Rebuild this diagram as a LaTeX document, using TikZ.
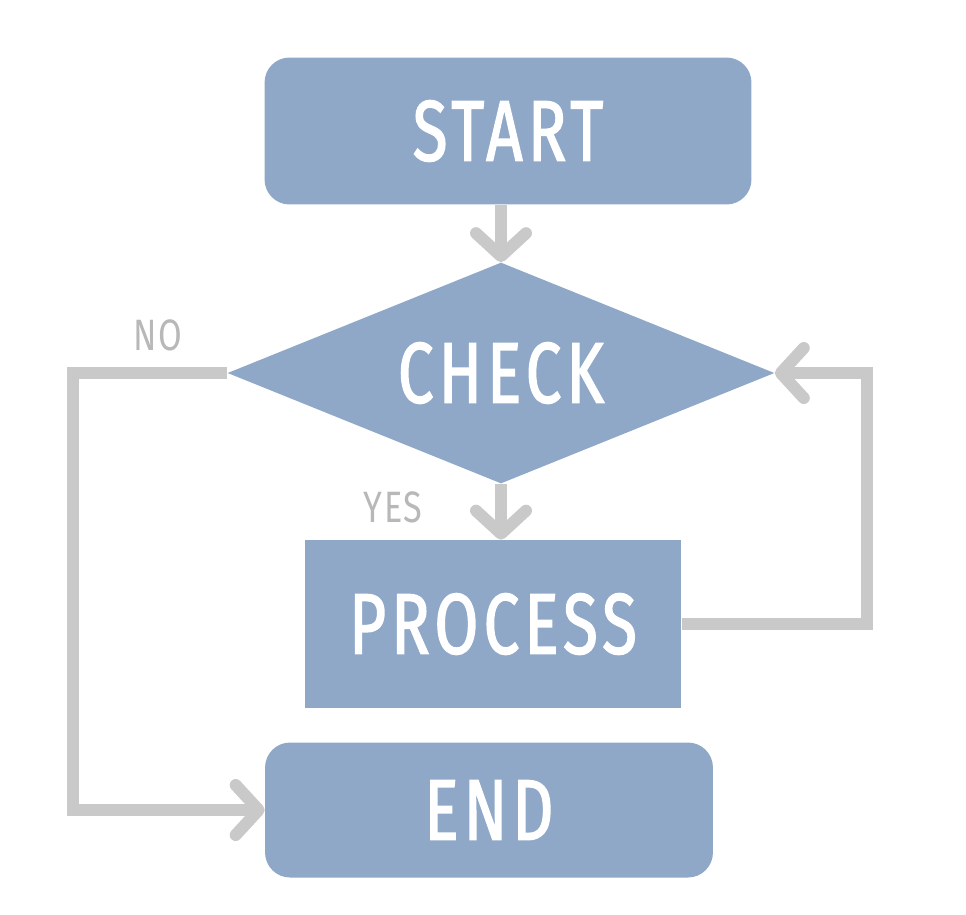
\documentclass[tikz,border=0pt]{standalone}
\usepackage{fontspec}
\usetikzlibrary{shapes.geometric,arrows.meta,positioning}
\newfontfamily\boxfont{Fira Sans}[FakeStretch=0.74, LetterSpace=6, FakeBold=1.6]
\newfontfamily\tagfont{Fira Sans}[FakeStretch=0.78, LetterSpace=4]
\definecolor{boxblue}{HTML}{8FA8C8}
\definecolor{flowgray}{HTML}{C9C9C9}
\definecolor{taggray}{HTML}{B8B8B8}

\begin{document}
\begin{tikzpicture}[x=0.02cm, y=-0.02cm,
		block/.style={fill=boxblue, text=white, inner sep=0pt,
			font=\boxfont\fontsize{49}{49}\selectfont},
		terminal/.style={block, rounded corners=0.5cm},
		decision/.style={block, diamond, aspect=2.5},
		flow/.style={draw=flowgray, line width=0.24cm,
			-{Straight Barb[length=0.46cm, width=1.0cm, round]}},
		tag/.style={text=taggray, font=\tagfont\fontsize{25}{25}\selectfont}]
		\useasboundingbox (0, 0) rectangle (966, 914);

		\draw (508, 131) 	node[terminal, minimum width=9.74cm, minimum height=2.94cm] (start) 	{START};
		\draw (501, 373) 	node[decision, minimum width=10.94cm, minimum height=4.42cm] (check) 	{CHECK};
		\draw (493, 624) 	node[block, minimum width=7.54cm, minimum height=3.36cm] (process) 	{PROCESS};
		\draw (489, 810) 	node[terminal, minimum width=8.96cm, minimum height=2.7cm] (end) 	{END};

		\draw (158, 335) 	node[tag] (no) 	{NO};
		\draw (393, 507) 	node[tag] (yes) 	{YES};

		\coordinate (noturn) at (73, 0);
		\coordinate (backturn) at (867, 0);

		\draw[flow] (check.north |- start.south) -- (check.north);
		\draw[flow] (check.south) -- (check.south |- process.north);
		\draw[flow] (check.west) -- (check.west -| noturn) |- (end.west);
		\draw[flow] (process.east) -- (process.east -| backturn) |- (check.east);
	\end{tikzpicture}
\end{document}
